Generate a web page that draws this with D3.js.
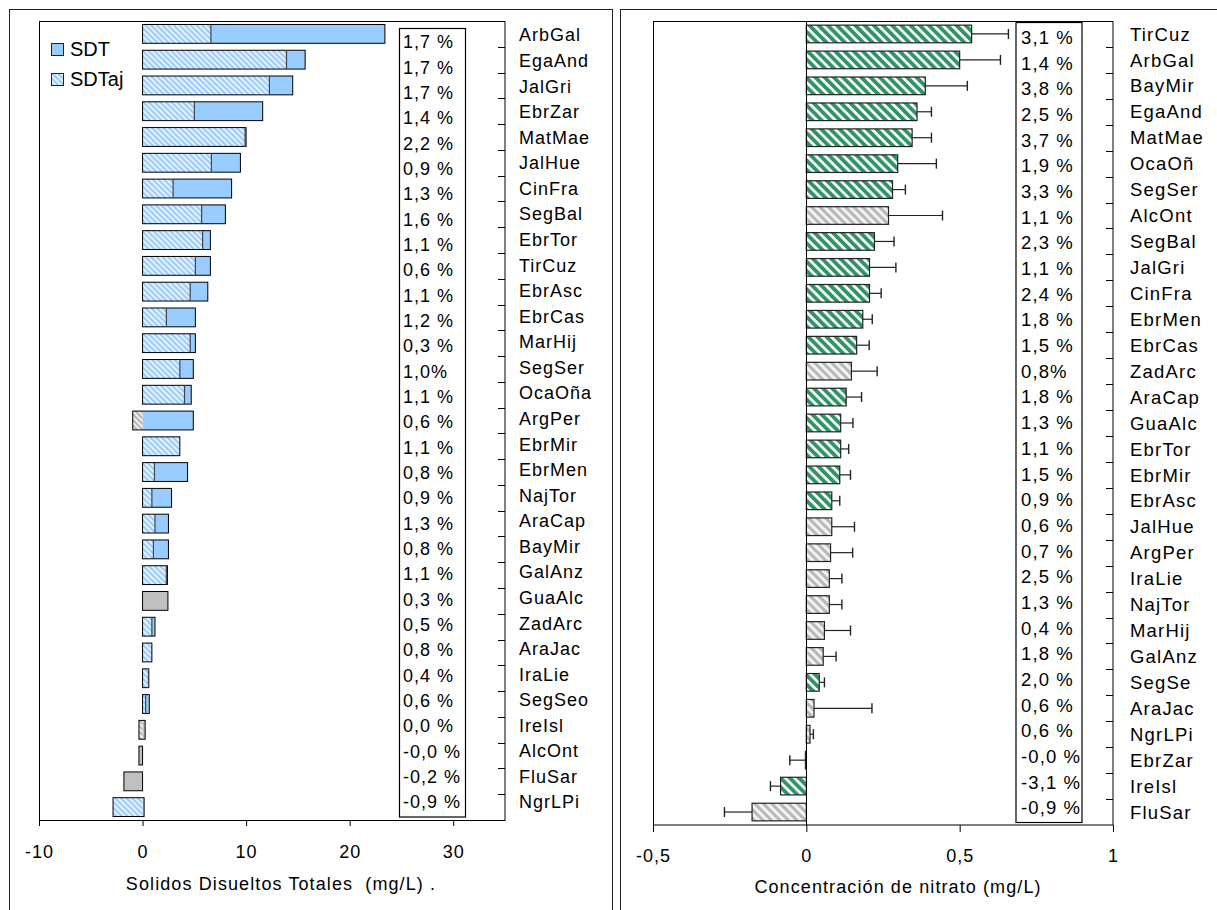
<!DOCTYPE html>
<html>
<head>
<meta charset="utf-8">
<script src="https://cdn.jsdelivr.net/npm/d3@7"></script>
<style>
    body { margin: 0; background: #fff; }
    svg text { font-family: "Liberation Sans", Arial, sans-serif; fill: #000; }
</style>
</head>
<body>
<svg id="chart" width="1217" height="910"></svg>
<script>
// left panel: total dissolved solids
var sdtSites = ["ArbGal", "EgaAnd", "JalGri", "EbrZar", "MatMae", "JalHue", "CinFra", "SegBal", "EbrTor", "TirCuz",
    "EbrAsc", "EbrCas", "MarHij", "SegSer", "OcaOña", "ArgPer", "EbrMir", "EbrMen", "NajTor", "AraCap",
    "BayMir", "GalAnz", "GuaAlc", "ZadArc", "AraJac", "IraLie", "SegSeo", "IreIsl", "AlcOnt", "FluSar", "NgrLPi"];
var sdtValues = [23.4, 15.7, 14.5, 11.6, 10.0, 9.45, 8.6, 8.0, 6.55, 6.55,
    6.3, 5.1, 5.1, 4.9, 4.7, 4.9, 3.6, 4.35, 2.8, 2.5,
    2.5, 2.4, 2.45, 1.2, 0.9, 0.6, 0.65, 0.25, -0.35, -1.8, 0.15];
var sdtAjValues = [6.6, 13.9, 12.25, 5.0, 9.9, 6.65, 2.95, 5.7, 5.8, 5.1,
    4.6, 2.3, 4.6, 3.6, 4.05, -0.95, 3.6, 1.15, 0.9, 1.2,
    1.05, 2.3, 0, 0.9, 0.9, 0.57, 0.3, -0.35, 0, 0, -2.85];
var sdtGray = [0, 0, 0, 0, 0, 0, 0, 0, 0, 0, 0, 0, 0, 0, 0, 0, 0, 0, 0, 0, 0, 0, 1, 0, 0, 0, 0, 1, 1, 1, 0];
var sdtAjGray = [0, 0, 0, 0, 0, 0, 0, 0, 0, 0, 0, 0, 0, 0, 0, 1, 0, 0, 0, 0, 0, 0, 0, 0, 0, 0, 0, 1, 0, 0, 0];
var sdtPct = ["1,7 %", "1,7 %", "1,7 %", "1,4 %", "2,2 %", "0,9 %", "1,3 %", "1,6 %", "1,1 %", "0,6 %",
    "1,1 %", "1,2 %", "0,3 %", "1,0%", "1,1 %", "0,6 %", "1,1 %", "0,8 %", "0,9 %", "1,3 %",
    "0,8 %", "1,1 %", "0,3 %", "0,5 %", "0,8 %", "0,4 %", "0,6 %", "0,0 %", "-0,0 %", "-0,2 %", "-0,9 %"];
var sdtTicks = [-10, 0, 10, 20, 30];

// right panel: nitrate
var nitSites = ["TirCuz", "ArbGal", "BayMir", "EgaAnd", "MatMae", "OcaOñ", "SegSer", "AlcOnt", "SegBal", "JalGri",
    "CinFra", "EbrMen", "EbrCas", "ZadArc", "AraCap", "GuaAlc", "EbrTor", "EbrMir", "EbrAsc", "JalHue",
    "ArgPer", "IraLie", "NajTor", "MarHij", "GalAnz", "SegSe", "AraJac", "NgrLPi", "EbrZar", "IreIsl", "FluSar"];
var nitValues = [0.539, 0.50, 0.388, 0.361, 0.345, 0.298, 0.281, 0.268, 0.222, 0.206,
    0.206, 0.184, 0.164, 0.147, 0.130, 0.112, 0.112, 0.109, 0.083, 0.083,
    0.079, 0.075, 0.075, 0.059, 0.055, 0.042, 0.025, 0.012, -0.003, -0.084, -0.177];
var nitErr = [0.12, 0.133, 0.137, 0.047, 0.063, 0.126, 0.042, 0.176, 0.064, 0.086,
    0.038, 0.031, 0.041, 0.084, 0.05, 0.04, 0.026, 0.035, 0.026, 0.074,
    0.072, 0.041, 0.041, 0.085, 0.042, 0.017, 0.189, 0.011, 0.051, 0.033, 0.09];
var nitSig = [1, 1, 1, 1, 1, 1, 1, 0, 1, 1, 1, 1, 1, 0, 1, 1, 1, 1, 1, 0, 0, 0, 0, 0, 0, 1, 0, 0, 0, 1, 0];
var nitPct = ["3,1 %", "1,4 %", "3,8 %", "2,5 %", "3,7 %", "1,9 %", "3,3 %", "1,1 %", "2,3 %", "1,1 %",
    "2,4 %", "1,8 %", "1,5 %", "0,8%", "1,8 %", "1,3 %", "1,1 %", "1,5 %", "0,9 %", "0,6 %",
    "0,7 %", "2,5 %", "1,3 %", "0,4 %", "1,8 %", "2,0 %", "0,6 %", "0,6 %", "-0,0 %", "-3,1 %", "-0,9 %"];
var nitTicks = [-0.5, 0, 0.5, 1];

var svg = d3.select("#chart");
var defs = svg.append("defs");

function hatch(id, bg, fg, size, w) {
    var p = defs.append("pattern")
        .attr("id", id)
        .attr("patternUnits", "userSpaceOnUse")
        .attr("width", size).attr("height", size)
        .attr("patternTransform", "rotate(-45)");
    p.append("rect").attr("width", size).attr("height", size).attr("fill", bg);
    p.append("rect").attr("width", w).attr("height", size).attr("fill", fg);
}
hatch("hBlue", "#eef6ff", "#99ccff", 4, 2.2);
hatch("hGrayL", "#eeeeee", "#b4b4b4", 4, 2);
hatch("hGreen", "#ffffff", "#2f9466", 6.5, 3.8);
hatch("hGray", "#f2f2f2", "#b8b8b8", 6, 3);

// outer frames
svg.append("rect").attr("x", 9.5).attr("y", 9.5).attr("width", 603).attr("height", 930)
    .attr("fill", "none").attr("stroke", "#222");
svg.append("rect").attr("x", 620.5).attr("y", 9.5).attr("width", 640).attr("height", 930)
    .attr("fill", "none").attr("stroke", "#222");

// ---------- left chart ----------
var x1 = d3.scaleLinear().domain([-10, 35]).range([39, 505]);
var y1 = d3.scaleBand().domain(sdtSites).range([21, 820]).paddingInner(0.27).paddingOuter(0.135);
var left = svg.append("g");

var rows1 = sdtSites.map((s, i) => ({ site: s, sdt: sdtValues[i], aj: sdtAjValues[i], g: sdtGray[i], ga: sdtAjGray[i] }));

left.selectAll(".sdt").data(rows1).enter().append("rect")
    .attr("x", d => x1(Math.min(0, d.sdt)))
    .attr("y", d => y1(d.site))
    .attr("width", d => Math.abs(x1(d.sdt) - x1(0)))
    .attr("height", y1.bandwidth())
    .attr("fill", d => d.g ? "#c0c0c0" : "#99ccff");

left.selectAll(".aj").data(rows1.filter(d => d.aj != 0)).enter().append("rect")
    .attr("x", d => x1(Math.min(0, d.aj)))
    .attr("y", d => y1(d.site))
    .attr("width", d => Math.abs(x1(d.aj) - x1(0)))
    .attr("height", y1.bandwidth())
    .attr("fill", d => d.ga ? "url(#hGrayL)" : "url(#hBlue)");

left.selectAll(".outline").data(rows1).enter().append("rect")
    .attr("x", d => x1(Math.min(0, d.sdt, d.aj)))
    .attr("y", d => y1(d.site))
    .attr("width", d => x1(Math.max(0, d.sdt, d.aj)) - x1(Math.min(0, d.sdt, d.aj)))
    .attr("height", y1.bandwidth())
    .attr("fill", "none")
    .attr("stroke", "#000")
    .attr("stroke-width", 1);

left.selectAll(".ajend").data(rows1.filter(d => d.aj > 0 && d.aj < d.sdt)).enter().append("line")
    .attr("x1", d => x1(d.aj)).attr("x2", d => x1(d.aj))
    .attr("y1", d => y1(d.site)).attr("y2", d => y1(d.site) + y1.bandwidth())
    .attr("stroke", "#444").attr("stroke-width", 1.2);

// plot area frame
left.append("rect").attr("x", 39.5).attr("y", 21.5).attr("width", 465.5).attr("height", 799)
    .attr("fill", "none").attr("stroke", "#000");

// category ticks on right axis
left.selectAll(".ctick").data(sdtSites.slice(1)).enter().append("line")
    .attr("x1", 498).attr("x2", 505)
    .attr("y1", d => Math.round(y1(d) - y1.step() * y1.paddingInner() / 2) + 0.5)
    .attr("y2", d => Math.round(y1(d) - y1.step() * y1.paddingInner() / 2) + 0.5)
    .attr("stroke", "#000");

// percentage box
left.append("rect").attr("x", 399.5).attr("y", 28.5).attr("width", 66).attr("height", 788.5)
    .attr("fill", "#fff").attr("stroke", "#000").attr("stroke-width", 1.2);
var p1 = d3.scalePoint().domain(d3.range(sdtPct.length)).range([41.7, 801.7]);
left.selectAll(".pct").data(sdtPct).enter().append("text")
    .attr("x", 403).attr("y", (d, i) => p1(i)).attr("dy", "0.36em")
    .style("font-size", "18px").style("letter-spacing", "1px")
    .text(d => d);

var l1 = d3.scalePoint().domain(sdtSites).range([35, 802]);
left.selectAll(".lab").data(sdtSites).enter().append("text")
    .attr("x", 519).attr("y", d => l1(d)).attr("dy", "0.36em")
    .style("font-size", "18px").style("letter-spacing", "1px")
    .text(d => d);

var ax1 = left.append("g").attr("transform", "translate(0,820)")
    .call(d3.axisBottom(x1).tickValues(sdtTicks).tickSize(6).tickFormat(d => String(d)));
ax1.select(".domain").remove();
ax1.selectAll("line").attr("stroke", "#000");
ax1.selectAll("text").attr("y", 38).attr("dy", null)
    .style("font-size", "18px").style("letter-spacing", "1px");

left.append("text").attr("x", 281).attr("y", 890).attr("text-anchor", "middle")
    .style("font-size", "18px").style("letter-spacing", "1.1px").style("white-space", "pre")
    .text("Solidos Disueltos Totales  (mg/L) .");

// legend
left.append("rect").attr("x", 51.5).attr("y", 43.5).attr("width", 12).attr("height", 12)
    .attr("fill", "#99ccff").attr("stroke", "#222");
left.append("text").attr("x", 70).attr("y", 56).style("font-size", "20px").text("SDT");
left.append("rect").attr("x", 51.5).attr("y", 73.5).attr("width", 12).attr("height", 12)
    .attr("fill", "url(#hBlue)").attr("stroke", "#222");
left.append("text").attr("x", 70).attr("y", 86).style("font-size", "20px").text("SDTaj");

// ---------- right chart ----------
var x2 = d3.scaleLinear().domain([-0.5, 1]).range([653, 1113]);
var y2 = d3.scaleBand().domain(nitSites).range([21, 825]).paddingInner(0.32).paddingOuter(0.16);
var right = svg.append("g");

var rows2 = nitSites.map((s, i) => ({ site: s, v: nitValues[i], e: nitErr[i], sig: nitSig[i] }));

right.append("rect").attr("x", 653.5).attr("y", 21.5).attr("width", 459.5).attr("height", 803.5)
    .attr("fill", "none").attr("stroke", "#000");

right.selectAll(".bar").data(rows2).enter().append("rect")
    .attr("x", d => x2(Math.min(0, d.v)))
    .attr("y", d => y2(d.site))
    .attr("width", d => Math.max(1, Math.abs(x2(d.v) - x2(0))))
    .attr("height", y2.bandwidth())
    .attr("fill", d => d.sig ? "url(#hGreen)" : "url(#hGray)")
    .attr("stroke", "#222")
    .attr("stroke-width", 1.2);

right.append("line").attr("x1", Math.round(x2(0)) + 0.5).attr("x2", Math.round(x2(0)) + 0.5)
    .attr("y1", 21).attr("y2", 825).attr("stroke", "#000");

// error bars, one-sided outward
var eb = right.selectAll(".err").data(rows2).enter().append("g");
eb.append("line")
    .attr("x1", d => x2(d.v))
    .attr("x2", d => x2(d.v < 0 ? d.v - d.e : d.v + d.e))
    .attr("y1", d => y2(d.site) + y2.bandwidth() / 2)
    .attr("y2", d => y2(d.site) + y2.bandwidth() / 2)
    .attr("stroke", "#222").attr("stroke-width", 1.2);
eb.append("line")
    .attr("x1", d => x2(d.v < 0 ? d.v - d.e : d.v + d.e))
    .attr("x2", d => x2(d.v < 0 ? d.v - d.e : d.v + d.e))
    .attr("y1", d => y2(d.site) + y2.bandwidth() / 2 - 5)
    .attr("y2", d => y2(d.site) + y2.bandwidth() / 2 + 5)
    .attr("stroke", "#222").attr("stroke-width", 1.4);

right.selectAll(".ctick").data(nitSites.slice(1)).enter().append("line")
    .attr("x1", 1106).attr("x2", 1113)
    .attr("y1", d => Math.round(y2(d) - y2.step() * y2.paddingInner() / 2) + 0.5)
    .attr("y2", d => Math.round(y2(d) - y2.step() * y2.paddingInner() / 2) + 0.5)
    .attr("stroke", "#000");

right.append("rect").attr("x", 1016).attr("y", 22.5).attr("width", 66).attr("height", 800)
    .attr("fill", "#fff").attr("stroke", "#000").attr("stroke-width", 1.2);
var p2 = d3.scalePoint().domain(d3.range(nitPct.length)).range([37.3, 807.7]);
right.selectAll(".pct").data(nitPct).enter().append("text")
    .attr("x", 1021).attr("y", (d, i) => p2(i)).attr("dy", "0.36em")
    .style("font-size", "18.5px").style("letter-spacing", "1.1px")
    .text(d => d);

right.selectAll(".lab").data(nitSites).enter().append("text")
    .attr("x", 1130).attr("y", d => y2(d) + y2.bandwidth() / 2).attr("dy", "0.36em")
    .style("font-size", "18.5px").style("letter-spacing", "1.2px")
    .text(d => d);

var ax2 = right.append("g").attr("transform", "translate(0,825)")
    .call(d3.axisBottom(x2).tickValues(nitTicks).tickSize(7).tickFormat(d => String(d).replace(".", ",")));
ax2.select(".domain").remove();
ax2.selectAll("line").attr("stroke", "#000");
ax2.selectAll("text").attr("y", 37).attr("dy", null)
    .style("font-size", "18px").style("letter-spacing", "1px");

right.append("text").attr("x", 898).attr("y", 893).attr("text-anchor", "middle")
    .style("font-size", "18px").style("letter-spacing", "1.1px")
    .text("Concentración de nitrato (mg/L)");
</script>
</body>
</html>
